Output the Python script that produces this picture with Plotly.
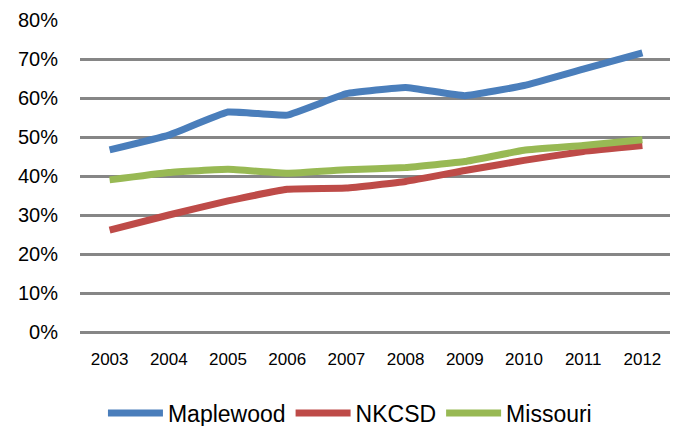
import plotly.graph_objects as go

years = ["2003", "2004", "2005", "2006", "2007", "2008", "2009", "2010", "2011", "2012"]
maplewood = [46.7, 50.5, 56.4, 55.6, 61.1, 62.7, 60.6, 63.2, 67.4, 71.6]
nkcsd = [26.1, 30.0, 33.6, 36.6, 36.9, 38.6, 41.4, 44.0, 46.3, 47.8]
missouri = [39.0, 40.9, 41.7, 40.7, 41.6, 42.2, 43.7, 46.6, 47.8, 49.3]
y_ticks = [0, 10, 20, 30, 40, 50, 60, 70, 80]
y_labels = [f"{v}%" for v in y_ticks]

FONT = "Liberation Sans, Arial, sans-serif"
GRID = "#868686"

fig = go.Figure()
for name, vals, col in [("Maplewood", maplewood, "#4A7EBB"),
                        ("NKCSD", nkcsd, "#BE4B48"),
                        ("Missouri", missouri, "#98B954")]:
    fig.add_trace(go.Scatter(x=years, y=vals, name=name, mode="lines",
                             line=dict(color=col, width=7, shape="spline", smoothing=0.3)))

# The page body has an 8px default margin, so the figure is sized/offset to compensate.
fig.update_layout(
    width=670, height=418,
    margin=dict(l=72, r=6, t=12, b=94, autoexpand=False),
    paper_bgcolor="white", plot_bgcolor="white",
    font=dict(family=FONT, color="#000000", size=17),
    showlegend=True,
    legend=dict(orientation="h", x=0.456, xanchor="center", y=-0.26, yanchor="middle",
                font=dict(size=23, family=FONT), itemwidth=55, traceorder="normal"),
    xaxis=dict(type="category", range=[-0.5, 9.5], showgrid=False, zeroline=False,
               showline=False, ticks="", tickfont=dict(size=17), ticklabelstandoff=15,
               automargin=False),
    yaxis=dict(range=[0, 80], tickvals=y_ticks, ticktext=y_labels, showgrid=True,
               gridcolor=GRID, gridwidth=2.6, zeroline=True, zerolinecolor=GRID,
               zerolinewidth=2.6, showline=False, ticks="", tickfont=dict(size=20),
               ticklabelstandoff=21, automargin=False),
)

fig.write_html("out.html")
